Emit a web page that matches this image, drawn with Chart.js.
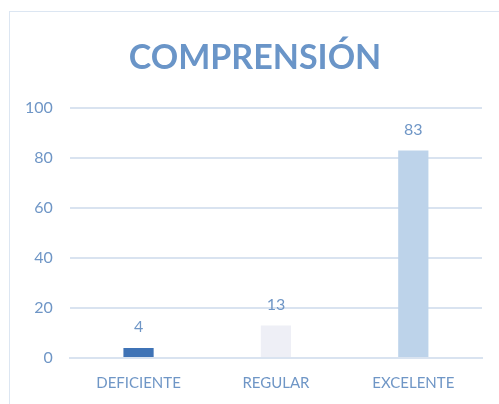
<!DOCTYPE html>
<html>
<head>
<meta charset="utf-8">
<script src="https://cdn.jsdelivr.net/npm/chart.js@4"></script>
<style>
  body { margin: 0; background: #fff; }
  #frame { position: absolute; left: 9px; top: 11px; width: 600px; height: 500px; border: 1px solid #dce6f2; }
  #chart { position: absolute; left: 0; top: 0; }
</style>
</head>
<body>
<div id="frame"></div>
<canvas id="chart" width="499" height="404"></canvas>
<script>
const categories = ["DEFICIENTE", "REGULAR", "EXCELENTE"];
const values = [4, 13, 83];
const barColors = ["#3f73b6", "#eeeff6", "#bdd3ea"];
const yTicks = [0, 20, 40, 60, 80, 100];
const titleText = "COMPRENSIÓN";

const textColor = "#6f96c6";

// title centred over the chart frame (not the canvas), plus the value above each bar
const decorations = {
    id: "decorations",
    afterDatasetsDraw(chart) {
        const ctx = chart.ctx;
        const meta = chart.getDatasetMeta(0);
        ctx.save();
        ctx.textAlign = "center";

        ctx.font = "bold 34px Lato";
        ctx.fillStyle = "#6a95c8";
        ctx.textBaseline = "middle";
        ctx.fillText(titleText, 255, 58);

        ctx.font = "16px Lato";
        ctx.fillStyle = textColor;
        ctx.textBaseline = "bottom";
        meta.data.forEach((bar, i) => {
            ctx.fillText(values[i], bar.x, bar.y - 13);
        });
        ctx.restore();
    }
};

const ctx = document.getElementById("chart").getContext("2d");
new Chart(ctx, {
    type: "bar",
    data: {
        labels: categories,
        datasets: [{
            data: values,
            backgroundColor: barColors,
            barPercentage: 0.22,
            categoryPercentage: 1
        }]
    },
    options: {
        responsive: false,
        animation: false,
        layout: { padding: { left: 8, right: 17, top: 108, bottom: -4 } },
        plugins: {
            legend: { display: false },
            tooltip: { enabled: false },
            title: { display: false }
        },
        scales: {
            x: {
                grid: { display: false, drawTicks: false },
                border: { color: "#d9e3f0", width: 2 },
                ticks: { color: textColor, font: { family: "Lato", size: 15 }, padding: 16 }
            },
            y: {
                min: 0,
                max: 100,
                afterBuildTicks: axis => { axis.ticks = yTicks.map(v => ({ value: v })); },
                grid: { color: "#d9e3f0", lineWidth: 2, drawTicks: false },
                border: { display: false },
                ticks: { color: textColor, font: { family: "Lato", size: 16 }, padding: 17 }
            }
        }
    },
    plugins: [decorations]
});
</script>
</body>
</html>
